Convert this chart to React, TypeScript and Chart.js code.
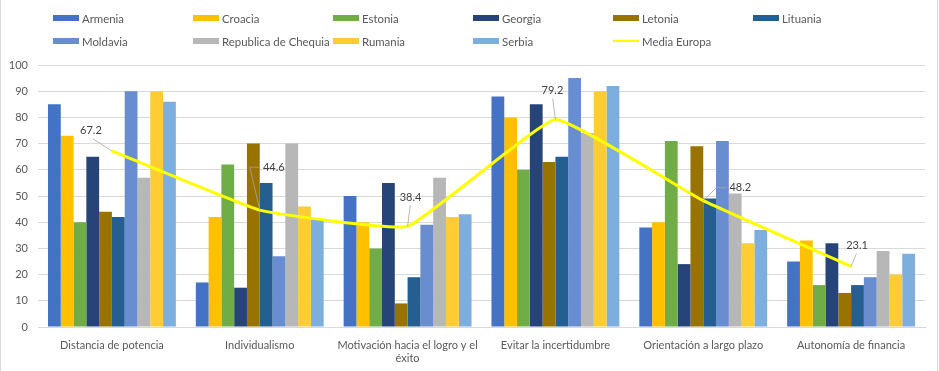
import React, { useEffect, useRef } from "react";
import { Chart, registerables } from "chart.js";

Chart.register(...registerables);

const categories: (string | string[])[] = [
  "Distancia de potencia",
  "Individualismo",
  ["Motivación hacia el logro y el", "éxito"],
  "Evitar la incertidumbre",
  "Orientación a largo plazo",
  "Autonomía de financia",
];

const armenia = [85, 17, 50, 88, 38, 25];
const croacia = [73, 42, 40, 80, 40, 33];
const estonia = [40, 62, 30, 60, 71, 16];
const georgia = [65, 15, 55, 85, 24, 32];
const letonia = [44, 70, 9, 63, 69, 13];
const lituania = [42, 55, 19, 65, 49, 16];
const moldavia = [90, 27, 39, 95, 71, 19];
const chequia = [57, 70, 57, 74, 51, 29];
const rumania = [90, 46, 42, 90, 32, 20];
const serbia = [86, 41, 43, 92, 37, 28];
const mediaEuropa = [67.2, 44.6, 38.4, 79.2, 48.2, 23.1];

const yTicks = [0, 10, 20, 30, 40, 50, 60, 70, 80, 90, 100];

const barSeries = [
  { label: "Armenia", data: armenia, color: "#4472C4" },
  { label: "Croacia", data: croacia, color: "#FFC000" },
  { label: "Estonia", data: estonia, color: "#70AD47" },
  { label: "Georgia", data: georgia, color: "#264478" },
  { label: "Letonia", data: letonia, color: "#997300" },
  { label: "Lituania", data: lituania, color: "#255E91" },
  { label: "Moldavia", data: moldavia, color: "#698ED0" },
  { label: "Republica de Chequia", data: chequia, color: "#B7B7B7" },
  { label: "Rumania", data: rumania, color: "#FFCD33" },
  { label: "Serbia", data: serbia, color: "#7CAFDD" },
];
const lineLabel = "Media Europa";
const lineColor = "#FFFF00";

// label offsets (style): relative to data point
const labelOffsets = [
  [-21, -20],
  [14, -43],
  [3, -29],
  [-3, -29],
  [37, -13],
  [6, -21],
];

const FONT = "Lato, 'Open Sans', sans-serif";

const labelPlugin = {
  id: "leaderLabels",
  afterDatasetsDraw(chart: any) {
    const idx = chart.data.datasets.length - 1;
    const meta = chart.getDatasetMeta(idx);
    const ctx = chart.ctx;
    ctx.save();
    ctx.font = "11px " + FONT;
    ctx.textAlign = "center";
    ctx.textBaseline = "middle";
    meta.data.forEach((pt: any, i: number) => {
      const v = chart.data.datasets[idx].data[i];
      const txt = String(v);
      const [dx, dy] = labelOffsets[i];
      const lx = pt.x + dx;
      const ly = pt.y + dy;
      const w = ctx.measureText(txt).width;
      const h = 12;
      ctx.strokeStyle = "#A6A6A6";
      ctx.lineWidth = 0.8;
      ctx.beginPath();
      if (pt.x < lx - w / 2 - 2) {
        const sx = lx - w / 2 - 3;
        const ex = sx - 10;
        ctx.moveTo(sx, ly);
        ctx.lineTo(ex, ly);
        ctx.lineTo(pt.x, pt.y);
      } else {
        ctx.moveTo(lx + (pt.x - lx) * 0.1, ly + h / 2 + 2);
        ctx.lineTo(pt.x, pt.y);
      }
      ctx.stroke();
      ctx.fillStyle = "#404040";
      ctx.fillText(txt, lx, ly);
    });
    ctx.restore();
  },
};

export default function App() {
  const ref = useRef<HTMLCanvasElement>(null);
  useEffect(() => {
    if (!ref.current) return;
    const datasets: any[] = barSeries.map((s) => ({
      type: "bar",
      label: s.label,
      data: s.data,
      backgroundColor: s.color,
      borderWidth: 0,
      categoryPercentage: 0.865,
      barPercentage: 1.0,
      order: 2,
    }));
    datasets.push({
      type: "line",
      label: lineLabel,
      data: mediaEuropa,
      borderColor: lineColor,
      backgroundColor: lineColor,
      borderWidth: 3,
      pointRadius: 0,
      tension: 0.1,
      order: 1,
    });
    const chart = new Chart(ref.current, {
      type: "bar",
      data: { labels: categories as any, datasets },
      options: {
        animation: false,
        responsive: false,
        maintainAspectRatio: false,
        layout: { padding: { top: 65, right: 14, left: 0, bottom: 0 } },
        plugins: {
          legend: { display: false },
          tooltip: { enabled: false },
        },
        scales: {
          x: {
            grid: { display: false },
            border: { display: true, color: "#D9D9D9" },
            ticks: {
              color: "#595959",
              font: { family: FONT, size: 11 },
              padding: 4,
              maxRotation: 0,
              autoSkip: false,
            },
            afterFit(scale: any) {
              scale.height = 44;
            },
          },
          y: {
            min: 0,
            max: 100,
            afterBuildTicks(scale: any) {
              scale.ticks = yTicks.map((v) => ({ value: v }));
            },
            grid: { color: "#D9D9D9", drawTicks: false },
            border: { display: false },
            ticks: {
              color: "#595959",
              font: { family: FONT, size: 11 },
              padding: 10,
            },
            afterFit(scale: any) {
              scale.width = 38;
            },
          },
        },
      },
      plugins: [labelPlugin],
    });
    return () => chart.destroy();
  }, []);

  const legendItems = [
    ...barSeries.map((s) => ({ label: s.label, color: s.color, line: false })),
    { label: lineLabel, color: lineColor, line: true },
  ];

  return (
    <div
      style={{
        position: "fixed",
        left: 0,
        top: 0,
        width: 939,
        height: 371,
        background: "#fff",
        fontFamily: FONT,
      }}
    >
      <canvas ref={ref} width={939} height={371} style={{ position: "absolute", left: 0, top: 0 }} />
      <div
        style={{
          position: "absolute",
          left: 0,
          top: 0,
          width: 1,
          height: 371,
          background: "#D9D9D9",
        }}
      />
      <div
        style={{
          position: "absolute",
          left: 937,
          top: 0,
          width: 1,
          height: 371,
          background: "#D9D9D9",
        }}
      />
      {legendItems.map((it, i) => {
        const col = i % 6;
        const row = Math.floor(i / 6);
        return (
          <div
            key={it.label}
            style={{
              position: "absolute",
              left: 53 + col * 140,
              top: 10 + row * 23,
              height: 16,
              display: "flex",
              alignItems: "center",
              fontSize: 11.4,
              color: "#595959",
              whiteSpace: "nowrap",
            }}
          >
            <span
              style={{
                display: "inline-block",
                width: 26,
                height: it.line ? 2 : 6,
                background: it.color,
                marginRight: 3,
              }}
            />
            {it.label}
          </div>
        );
      })}
    </div>
  );
}
